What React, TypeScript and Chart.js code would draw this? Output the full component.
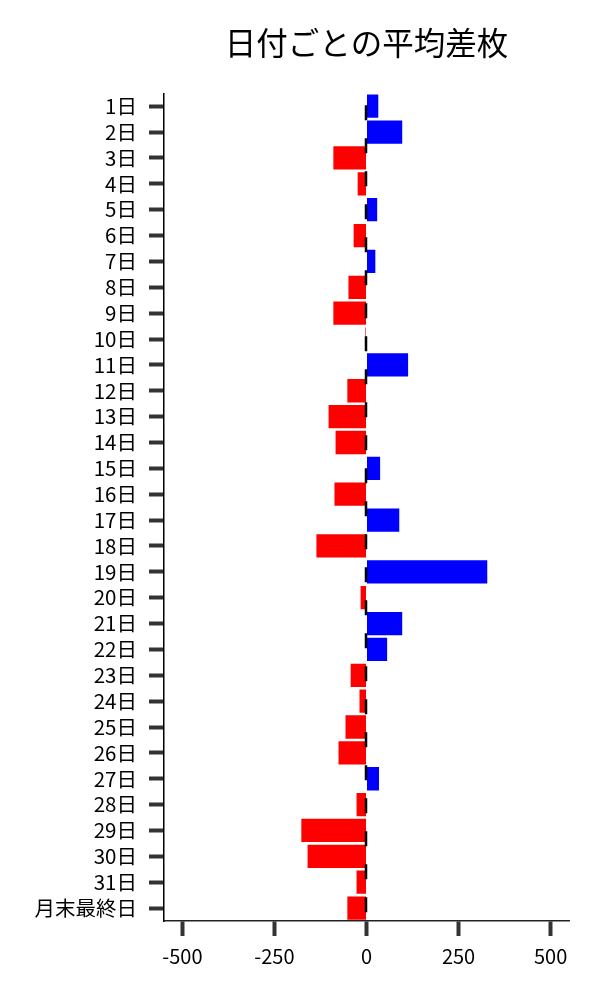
import React, { useEffect, useRef } from "react";
import { Chart, registerables } from "chart.js";

Chart.register(...registerables);

const TITLE = "日付ごとの平均差枚";
const categories = [
  "1日", "2日", "3日", "4日", "5日", "6日", "7日", "8日", "9日", "10日",
  "11日", "12日", "13日", "14日", "15日", "16日", "17日", "18日", "19日", "20日",
  "21日", "22日", "23日", "24日", "25日", "26日", "27日", "28日", "29日", "30日",
  "31日", "月末最終日",
];
const avgDiff = [
  32, 97, -90, -24, 29, -35, 24, -49, -90, -3,
  113, -52, -103, -84, 37, -87, 89, -136, 328, -16,
  97, 56, -43, -19, -57, -76, 34, -27, -177, -160,
  -27, -52,
];
const xTicks = [-500, -250, 0, 250, 500];
const xMin = -550;
const xMax = 550;

const FONT = "'Noto Sans CJK JP', 'Noto Sans', sans-serif";

const zeroLinePlugin = {
  id: "zeroLine",
  afterDatasetsDraw(chart: any) {
    const { ctx, chartArea, scales } = chart;
    const x = scales.x.getPixelForValue(0) - 0.5;
    ctx.save();
    ctx.strokeStyle = "#000000";
    ctx.lineWidth = 2.5;
    ctx.setLineDash([15, 18]);
    ctx.lineDashOffset = 21;
    ctx.beginPath();
    ctx.moveTo(x, chartArea.top);
    ctx.lineTo(x, chartArea.bottom);
    ctx.stroke();
    ctx.restore();
  },
};

export default function App() {
  const ref = useRef<HTMLCanvasElement | null>(null);
  useEffect(() => {
    if (!ref.current) return;
    const chart = new Chart(ref.current, {
      type: "bar",
      data: {
        labels: categories,
        datasets: [
          {
            data: avgDiff,
            backgroundColor: avgDiff.map((v) => (v >= 0 ? "#0000ff" : "#ff0000")),
            borderWidth: 0,
            barPercentage: 0.9,
            categoryPercentage: 1,
          },
        ],
      },
      options: {
        indexAxis: "y",
        animation: false,
        responsive: false,
        maintainAspectRatio: false,
        layout: { padding: { top: 0, left: 0, right: 31, bottom: 0 } },
        plugins: {
          legend: { display: false },
          tooltip: { enabled: false },
          title: {
            display: true,
            text: TITLE,
            fullSize: false,
            color: "#000000",
            font: { family: FONT, size: 31.5, weight: "normal", lineHeight: 1.2 },
            padding: { top: 24, bottom: 31.5 },
          },
        },
        scales: {
          x: {
            type: "linear",
            min: xMin,
            max: xMax,
            afterBuildTicks: (scale: any) => {
              scale.ticks = xTicks.map((v) => ({ value: v }));
            },
            afterFit: (scale: any) => {
              scale.height = 79;
            },
            grid: {
              display: true,
              drawOnChartArea: false,
              drawTicks: true,
              tickLength: 15,
              tickWidth: 4,
              tickColor: "#333333",
            },
            border: { display: true, color: "#222222", width: 1.5 },
            ticks: {
              color: "#000000",
              font: { family: FONT, size: 20 },
              padding: 8,
              maxRotation: 0,
            },
          },
          y: {
            type: "category",
            afterFit: (scale: any) => {
              scale.width = 164;
            },
            grid: {
              display: true,
              offset: false,
              drawOnChartArea: false,
              drawTicks: true,
              tickLength: 15,
              tickWidth: 4,
              tickColor: "#333333",
            },
            border: { display: true, color: "#000000", width: 1.5 },
            ticks: {
              color: "#000000",
              font: { family: FONT, size: 20.5 },
              padding: 12,
              autoSkip: false,
            },
          },
        },
      },
      plugins: [zeroLinePlugin],
    } as any);
    return () => chart.destroy();
  }, []);
  return (
    <div style={{ position: "absolute", left: 0, top: 0, width: 600, height: 1000, background: "#ffffff" }}>
      <canvas ref={ref} width={600} height={1000} style={{ display: "block", width: 600, height: 1000 }} />
    </div>
  );
}
